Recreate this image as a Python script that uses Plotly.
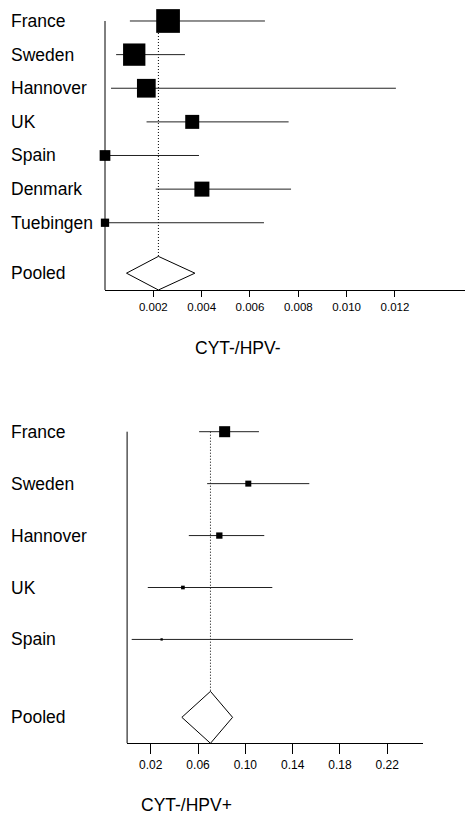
import plotly.graph_objects as go

# ---- CYT-/HPV- panel ----
top_studies = ["France", "Sweden", "Hannover", "UK", "Spain", "Denmark", "Tuebingen"]
top_est = [0.00261, 0.00121, 0.00171, 0.00361, 0.0, 0.00401, 0.0]
top_lo = [0.00103, 0.00046, 0.00025, 0.00172, 0.0, 0.00210, 0.0]
top_hi = [0.00662, 0.00331, 0.01204, 0.00760, 0.00389, 0.00770, 0.00658]
top_weight = [27.9, 24.7, 17.4, 9.7, 5.7, 11.2, 3.4]  # % weight
top_pooled = (0.00221, 0.00089, 0.00372)  # estimate, lower, upper
top_ticks = [0.002, 0.004, 0.006, 0.008, 0.010, 0.012]
top_title = "CYT-/HPV-"

# ---- CYT-/HPV+ panel ----
bot_studies = ["France", "Sweden", "Hannover", "UK", "Spain"]
bot_est = [0.0825, 0.1025, 0.0780, 0.0472, 0.0292]
bot_lo = [0.0609, 0.0677, 0.0522, 0.0175, 0.0039]
bot_hi = [0.1115, 0.1541, 0.1160, 0.1228, 0.1910]
bot_weight = [56.1, 16.7, 18.4, 6.3, 2.5]  # % weight
bot_pooled = (0.0705, 0.0463, 0.0892)
bot_ticks = [0.02, 0.06, 0.10, 0.14, 0.18, 0.22]
bot_title = "CYT-/HPV+"

FONT = "Liberation Sans, Arial, sans-serif"
W, H = 465, 815
PAD = 0.15  # extra rows above the first study so its CI line is not clipped

fig = go.Figure()


def add_panel(n, studies, est, lo, hi, weight, pooled, box_k, x_left, y_top_px, y_bot_px):
    xa = "x" if n == 1 else f"x{n}"
    ya = "y" if n == 1 else f"y{n}"
    rows = list(range(1, len(studies) + 1))
    pooled_row = len(studies) + 1.5
    bottom = pooled_row + 0.5
    p_est, p_lo, p_hi = pooled

    # dotted reference line at the pooled estimate
    fig.add_trace(go.Scatter(
        x=[p_est, p_est], y=[1, pooled_row - 0.5], mode="lines",
        line=dict(color="black", width=1, dash="1px,2px"),
        xaxis=xa, yaxis=ya, hoverinfo="skip", showlegend=False))

    # study estimates with confidence intervals
    fig.add_trace(go.Scatter(
        x=est, y=rows, mode="markers",
        marker=dict(symbol="square", color="black", opacity=1,
                    size=[box_k * w ** 0.5 for w in weight],
                    line=dict(width=0)),
        error_x=dict(type="data", symmetric=False,
                     array=[h - e for h, e in zip(hi, est)],
                     arrayminus=[e - l for e, l in zip(est, lo)],
                     color="#222222", thickness=1, width=0),
        cliponaxis=False, xaxis=xa, yaxis=ya, showlegend=False))

    # pooled diamond
    fig.add_trace(go.Scatter(
        x=[p_lo, p_est, p_hi, p_est, p_lo],
        y=[pooled_row, pooled_row - 0.5, pooled_row, pooled_row + 0.5, pooled_row],
        mode="lines", fill="toself", fillcolor="white",
        line=dict(color="black", width=1),
        xaxis=xa, yaxis=ya, showlegend=False))

    # vertical axis line from the first study down to the x axis
    fig.add_shape(type="line", xref="paper", yref=ya,
                  x0=x_left / W, x1=x_left / W, y0=1, y1=bottom,
                  line=dict(color="black", width=1))

    labels = studies + ["Pooled"]
    ys = rows + [pooled_row]
    for lab, yv in zip(labels, ys):
        fig.add_annotation(x=9 / W, xref="paper", y=yv, yref=ya,
                           text=lab, showarrow=False, xanchor="left",
                           yanchor="middle",
                           font=dict(family=FONT, size=17.5, color="black"))

    # domain padded upward by PAD rows, keeping row pixel positions
    step = (y_bot_px - y_top_px) / (bottom - 1)
    dom = [1 - y_bot_px / H, 1 - (y_top_px - PAD * step) / H]
    return bottom, dom


top_bottom, top_dom = add_panel(1, top_studies, top_est, top_lo, top_hi, top_weight,
                                top_pooled, 4.49, 105.0, 21.0, 290.0)
bot_bottom, bot_dom = add_panel(2, bot_studies, bot_est, bot_lo, bot_hi, bot_weight,
                                bot_pooled, 1.47, 127.1, 431.7, 743.3)

axis_common = dict(showgrid=False, zeroline=False, showline=True,
                   linecolor="black", linewidth=1)
yaxis_common = dict(showgrid=False, zeroline=False, showline=False,
                    showticklabels=False, ticks="")

fig.update_layout(
    width=W, height=H,
    margin=dict(l=0, r=0, t=0, b=0),
    paper_bgcolor="white", plot_bgcolor="white",
    xaxis=dict(domain=[105 / W, 1.0], range=[0, 0.0149],
               tickvals=top_ticks, ticktext=[f"{t:.3f}" for t in top_ticks],
               ticks="outside", ticklen=6, tickcolor="black", tickwidth=1,
               tickfont=dict(family=FONT, size=11.5, color="black"),
               anchor="y", **axis_common),
    yaxis=dict(domain=top_dom, range=[top_bottom, 1 - PAD], anchor="x",
               **yaxis_common),
    xaxis2=dict(domain=[127.1 / W, 422.7 / W], range=[0, 0.25],
                tickvals=bot_ticks, ticktext=[f"{t:.2f}" for t in bot_ticks],
                ticks="outside", ticklen=10, tickcolor="black", tickwidth=1,
                tickfont=dict(family=FONT, size=12, color="black"),
                anchor="y2", **axis_common),
    yaxis2=dict(domain=bot_dom, range=[bot_bottom, 1 - PAD], anchor="x2",
                **yaxis_common),
)

fig.add_annotation(x=237.5 / W, y=1 - 348 / H, xref="paper", yref="paper",
                   text=top_title, showarrow=False, xanchor="center",
                   yanchor="middle",
                   font=dict(family=FONT, size=17.5, color="black"))
fig.add_annotation(x=186 / W, y=1 - 805 / H, xref="paper", yref="paper",
                   text=bot_title, showarrow=False, xanchor="center",
                   yanchor="middle",
                   font=dict(family=FONT, size=17.5, color="black"))

fig.write_html("out.html")
